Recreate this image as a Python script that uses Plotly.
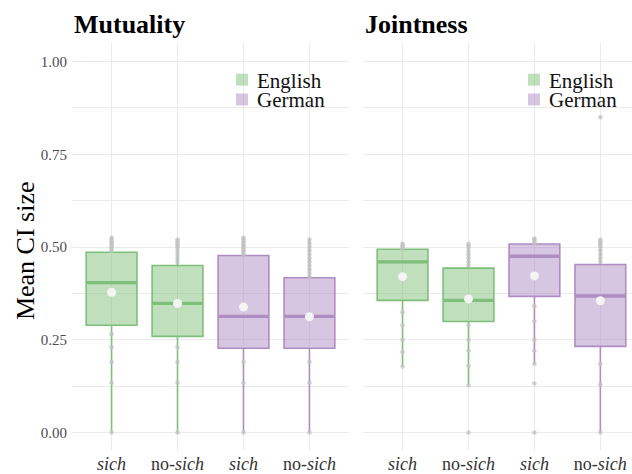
import plotly.graph_objects as go

# ---- data -------------------------------------------------------------
panels = ["Mutuality", "Jointness"]
tick_labels = ["<i>sich</i>", "no-<i>sich</i>", "<i>sich</i>", "no-<i>sich</i>"]
languages = ["English", "English", "German", "German"]
legend_langs = ["English", "German"]

# box statistics per panel (order: Eng sich, Eng no-sich, Ger sich, Ger no-sich)
mut_q1 = [0.289, 0.259, 0.227, 0.227]
mut_median = [0.404, 0.348, 0.313, 0.313]
mut_q3 = [0.486, 0.450, 0.477, 0.417]
mut_lower = [0.0, 0.0, 0.0, 0.0]
mut_upper = [0.525, 0.520, 0.525, 0.520]
mut_mean = [0.378, 0.348, 0.338, 0.312]

joi_q1 = [0.356, 0.299, 0.367, 0.232]
joi_median = [0.460, 0.356, 0.475, 0.368]
joi_q3 = [0.494, 0.443, 0.508, 0.453]
joi_lower = [0.178, 0.127, 0.185, 0.0]
joi_upper = [0.509, 0.509, 0.523, 0.520]
joi_mean = [0.420, 0.360, 0.422, 0.355]

# individual participant means
mut_points = [
    [0.0, 0.134, 0.19, 0.23, 0.265, 0.49, 0.495, 0.50, 0.505, 0.51, 0.515, 0.52, 0.525],
    [0.0, 0.134, 0.19, 0.23, 0.46, 0.47, 0.48, 0.49, 0.50, 0.505, 0.51, 0.515, 0.52],
    [0.0, 0.134, 0.19, 0.48, 0.485, 0.49, 0.495, 0.50, 0.505, 0.51, 0.515, 0.52, 0.525],
    [0.0, 0.134, 0.19, 0.42, 0.43, 0.44, 0.45, 0.46, 0.47, 0.48, 0.49, 0.50, 0.51, 0.52],
]
joi_points = [
    [0.178, 0.217, 0.25, 0.289, 0.324, 0.495, 0.50, 0.505, 0.509],
    [0.0, 0.127, 0.18, 0.22, 0.25, 0.29, 0.45, 0.46, 0.47, 0.48, 0.49, 0.50, 0.505, 0.509],
    [0.0, 0.132, 0.185, 0.22, 0.25, 0.30, 0.34, 0.51, 0.515, 0.52, 0.523],
    [0.0, 0.13, 0.185, 0.46, 0.47, 0.48, 0.49, 0.50, 0.505, 0.51, 0.515, 0.52, 0.85],
]

stats = [
    (mut_q1, mut_median, mut_q3, mut_lower, mut_upper, mut_mean, mut_points),
    (joi_q1, joi_median, joi_q3, joi_lower, joi_upper, joi_mean, joi_points),
]

line_col = {"English": "#7fbf7b", "German": "#af8dc3"}
fill_col = {"English": "rgba(127,191,123,0.5)", "German": "rgba(175,141,195,0.5)"}

FONT = "Times New Roman, Liberation Serif, Times, serif"
GRID = "#ebebeb"
BOX_W = 0.77

# page geometry (px) used to place legend keys in paper coordinates
W, H = 632, 474
ML, MR, MT, MB = 72, 0, 43, 19
PW, PH = W - ML - MR, H - MT - MB


def px_x(px):
    return (px - ML) / PW


def px_y(py):
    return (H - MB - py) / PH


fig = go.Figure()

for p, panel in enumerate(panels):
    xa, ya = ("x", "y") if p == 0 else ("x2", "y2")
    q1, med, q3, lo, hi, mn, pts = stats[p]
    for i in range(4):
        lang = languages[i]
        fig.add_trace(go.Box(
            x=[i], q1=[q1[i]], median=[med[i]], q3=[q3[i]],
            lowerfence=[lo[i]], upperfence=[hi[i]],
            width=BOX_W, whiskerwidth=0, boxpoints=False,
            fillcolor=fill_col[lang], line=dict(color=line_col[lang], width=1.6),
            xaxis=xa, yaxis=ya, showlegend=False, hoverinfo="skip",
        ))
        # thicker median bar
        fig.add_trace(go.Scatter(
            x=[i - BOX_W / 2, i + BOX_W / 2], y=[med[i], med[i]], mode="lines",
            line=dict(color=line_col[lang], width=3.4),
            xaxis=xa, yaxis=ya, showlegend=False, hoverinfo="skip",
        ))
        # raw points
        fig.add_trace(go.Scatter(
            x=[i] * len(pts[i]), y=pts[i], mode="markers",
            marker=dict(color="rgba(195,195,195,0.8)", size=4.5),
            xaxis=xa, yaxis=ya, showlegend=False, hoverinfo="skip",
        ))
    # group means
    fig.add_trace(go.Scatter(
        x=list(range(4)), y=mn, mode="markers",
        marker=dict(color="#f4f4f4", size=9),
        xaxis=xa, yaxis=ya, showlegend=False, hoverinfo="skip",
    ))

# per-panel legend keys
shapes, annotations = [], []
for key_left in (236, 528):
    for r, lang in enumerate(legend_langs):
        cy = 80 + 20 * r
        shapes.append(dict(
            type="rect", xref="paper", yref="paper",
            x0=px_x(key_left), x1=px_x(key_left + 12),
            y0=px_y(cy + 6), y1=px_y(cy - 6),
            fillcolor=fill_col[lang], line=dict(width=0), layer="above",
        ))
        annotations.append(dict(
            text=lang, xref="paper", yref="paper", x=px_x(key_left + 19),
            y=px_y(cy + 1), xanchor="left", yanchor="middle", showarrow=False,
            font=dict(family=FONT, size=21, color="#111111"),
        ))

xcommon = dict(
    tickvals=[0, 1, 2, 3], ticktext=tick_labels, showgrid=True, gridcolor=GRID,
    gridwidth=1, zeroline=False, showline=False, ticks="",
    tickfont=dict(family=FONT, size=18, color="#333333"),
)
ycommon = dict(
    range=[-0.05, 1.05], tickvals=[0, 0.25, 0.5, 0.75, 1.0],
    ticktext=["0.00", "0.25", "0.50", "0.75", "1.00"],
    showgrid=True, gridcolor=GRID, gridwidth=1, zeroline=False, showline=False,
    ticks="", tickfont=dict(family=FONT, size=15, color="#4d4d4d"),
    minor=dict(tickvals=[0.125, 0.375, 0.625, 0.875], showgrid=True,
               gridcolor=GRID, gridwidth=1),
)

annotations += [
    dict(text="<b>Mutuality</b>", xref="x domain", yref="paper", x=0, y=1.046,
         xanchor="left", yanchor="middle", showarrow=False,
         font=dict(family=FONT, size=26, color="#000000")),
    dict(text="<b>Jointness</b>", xref="x2 domain", yref="paper", x=0, y=1.046,
         xanchor="left", yanchor="middle", showarrow=False,
         font=dict(family=FONT, size=26, color="#000000")),
    dict(text="Mean CI size", xref="paper", yref="paper", x=px_x(25), y=0.49,
         xanchor="center", yanchor="middle", textangle=-90, showarrow=False,
         font=dict(family=FONT, size=26, color="#000000")),
]

fig.update_layout(
    width=W, height=H,
    margin=dict(l=ML, r=MR, t=MT, b=MB),
    paper_bgcolor="white", plot_bgcolor="white",
    boxmode="overlay", showlegend=False,
    font=dict(family=FONT),
    xaxis=dict(domain=[0, px_x(349)], range=[-0.6, 3.6], anchor="y", **xcommon),
    xaxis2=dict(domain=[px_x(363), 1.0], range=[-0.6, 3.48], anchor="y2", **xcommon),
    yaxis=dict(anchor="x", ticklabelstandoff=4, **ycommon),
    yaxis2=dict(anchor="x2", matches="y", showticklabels=False, **ycommon),
    shapes=shapes,
    annotations=annotations,
)

fig.write_html("out.html")
